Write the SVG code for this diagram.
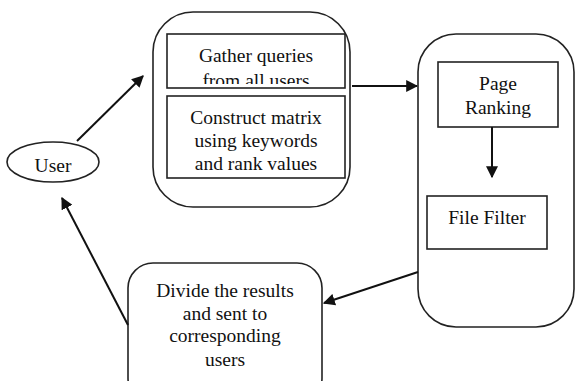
<svg xmlns="http://www.w3.org/2000/svg" width="576" height="381" viewBox="0 0 576 381">
<style>
.r{fill:#fff;stroke:#222;stroke-width:1.6}
.t{font-family:'Liberation Serif','DejaVu Serif',serif;font-size:19.5px;fill:#111;text-anchor:middle}
.c{fill:none;stroke:#111;stroke-width:2;marker-end:url(#ah)}
</style>
<defs>
<marker id="ah" viewBox="0 0 10 10" refX="9" refY="5" markerWidth="6" markerHeight="6" markerUnits="strokeWidth" orient="auto">
<path d="M0,0 L10,5 L0,10 z" fill="#111"/>
</marker>
<clipPath id="cg"><rect x="167" y="34" width="178" height="50"/></clipPath>
</defs>
<rect width="576" height="381" fill="#fff"/>
<g id="user">
<ellipse class="r" cx="53" cy="162" rx="46" ry="20"/>
<text class="t" x="53" y="172">User</text>
</g>
<g id="collect">
<rect class="r" x="153" y="12" width="197" height="195" rx="40"/>
<rect class="r" x="167" y="34" width="178" height="54"/>
<g clip-path="url(#cg)">
<text class="t" x="256" y="62">Gather queries</text>
<text class="t" x="256" y="86.5">from all users</text>
</g>
<rect class="r" x="167" y="96" width="178" height="82"/>
<text class="t" x="256" y="124">Construct matrix</text>
<text class="t" x="256" y="147">using keywords</text>
<text class="t" x="256" y="170">and rank values</text>
</g>
<g id="process">
<rect class="r" x="418" y="34" width="156" height="293" rx="38"/>
<rect class="r" x="438" y="62" width="120" height="65"/>
<text class="t" x="498" y="90">Page</text>
<text class="t" x="498" y="114">Ranking</text>
<rect class="r" x="427" y="196" width="120" height="53"/>
<text class="t" x="487" y="224">File Filter</text>
</g>
<g id="divide">
<rect class="r" x="128" y="263" width="194" height="140" rx="25"/>
<text class="t" x="225" y="297">Divide the results</text>
<text class="t" x="225" y="320">and sent to</text>
<text class="t" x="225" y="342">corresponding</text>
<text class="t" x="225" y="366">users</text>
</g>
<g id="connectors">
<line class="c" x1="77" y1="141" x2="143" y2="76"/>
<line class="c" x1="352" y1="86" x2="417" y2="86"/>
<line class="c" x1="492" y1="127" x2="492" y2="177"/>
<line class="c" x1="418" y1="272" x2="324" y2="303"/>
<line class="c" x1="128" y1="325" x2="62" y2="198"/>
</g>
</svg>
